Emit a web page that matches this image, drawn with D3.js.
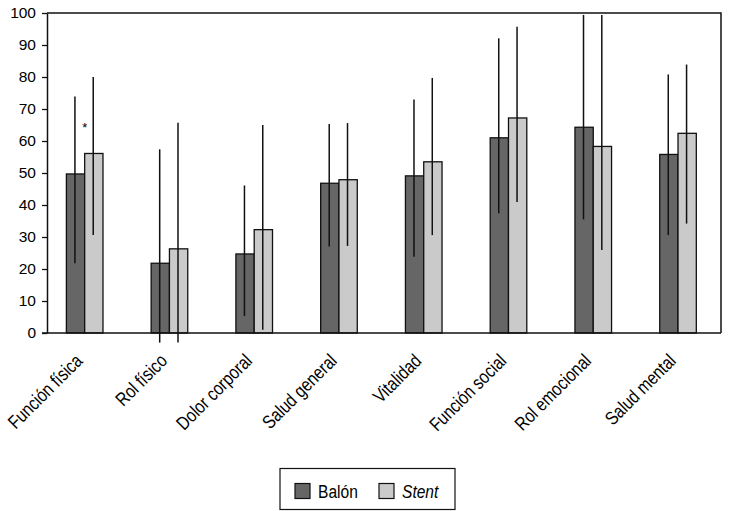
<!DOCTYPE html>
<html>
<head>
<meta charset="utf-8">
<script src="https://cdn.jsdelivr.net/npm/d3@7"></script>
<style>
  body { margin: 0; background: #fff; }
  svg text { font-family: "Liberation Sans", Arial, sans-serif; fill: #000; }
</style>
</head>
<body>
<svg id="plot" width="730" height="511"></svg>
<script>
// data
const categories = ["Función física", "Rol físico", "Dolor corporal", "Salud general",
                    "Vitalidad", "Función social", "Rol emocional", "Salud mental"];
const series = ["Balón", "Stent"];
const balonMean = [49.7, 21.8, 24.7, 46.8, 49.1, 61.0, 64.3, 55.8];
const balonLow  = [21.8, -3.0, 5.3, 27.0, 23.8, 37.4, 35.5, 30.6];
const balonHigh = [73.9, 57.4, 46.1, 65.3, 73.0, 92.1, 99.4, 80.8];
const stentMean = [56.1, 26.3, 32.3, 47.9, 53.5, 67.2, 58.3, 62.4];
const stentLow  = [30.6, -3.0, 1.0, 27.2, 30.6, 40.9, 25.9, 34.2];
const stentHigh = [80.0, 65.7, 65.0, 65.6, 79.7, 95.7, 99.4, 83.9];
const yTicks = [0, 10, 20, 30, 40, 50, 60, 70, 80, 90, 100];
const marks = [{ cat: "Función física", y: 65.2, text: "*" }];

const colors = { "Balón": "#666666", "Stent": "#cacaca" };

const svg = d3.select("#plot");

const plotL = 47, plotR = 721, plotT = 13, plotB = 333;
const narrow = 0.82; // the original type is a condensed face

const x0 = d3.scaleBand().domain(categories).range([42.3, 720.4]);
const x1 = d3.scaleBand().domain(series).range([-18.3, 18.3]);
const y = d3.scaleLinear().domain([0, 100]).range([plotB, plotT]);

const rows = [];
categories.forEach(function(c, i) {
    rows.push({ cat: c, s: "Balón", v: balonMean[i], lo: balonLow[i], hi: balonHigh[i] });
    rows.push({ cat: c, s: "Stent", v: stentMean[i], lo: stentLow[i], hi: stentHigh[i] });
});

function cx(d) { return x0(d.cat) + x0.bandwidth() / 2; }

// bars
svg.append("g").selectAll("rect")
    .data(rows)
    .enter().append("rect")
        .attr("x", function(d) { return cx(d) + x1(d.s); })
        .attr("y", function(d) { return y(d.v); })
        .attr("width", x1.bandwidth())
        .attr("height", function(d) { return y(0) - y(d.v); })
        .attr("fill", function(d) { return colors[d.s]; })
        .attr("stroke", "#111")
        .attr("stroke-width", 1.3);

// error lines
svg.append("g").selectAll("line")
    .data(rows)
    .enter().append("line")
        .attr("x1", function(d) { return cx(d) + x1(d.s) + x1.bandwidth() / 2 - 0.6; })
        .attr("x2", function(d) { return cx(d) + x1(d.s) + x1.bandwidth() / 2 - 0.6; })
        .attr("y1", function(d) { return y(d.lo); })
        .attr("y2", function(d) { return y(d.hi); })
        .attr("stroke", "#111")
        .attr("stroke-width", 1.5);

// frame: top and right
svg.append("path")
    .attr("d", "M" + plotL + "," + plotT + "H" + plotR + "V" + plotB)
    .attr("fill", "none")
    .attr("stroke", "#111")
    .attr("stroke-width", 1.5);

// y axis
const yAxis = svg.append("g")
    .attr("transform", "translate(" + plotL + ",0)")
    .call(d3.axisLeft(y).tickValues(yTicks).tickSize(5).tickPadding(6).tickSizeOuter(0));
yAxis.select(".domain").attr("stroke", "#111").attr("stroke-width", 1.5);
yAxis.selectAll(".tick line").attr("stroke", "#111").attr("stroke-width", 1.3);
yAxis.selectAll(".tick text")
    .attr("font-size", "15.5px")
    .attr("font-family", "Liberation Sans, Arial, sans-serif")
    .attr("fill", "#000");

// x axis line
svg.append("line")
    .attr("x1", plotL - 5).attr("x2", plotR)
    .attr("y1", y(0)).attr("y2", y(0))
    .attr("stroke", "#111")
    .attr("stroke-width", 1.5);

// category labels
svg.append("g").selectAll("text")
    .data(categories)
    .enter().append("text")
        .attr("text-anchor", "end")
        .attr("font-size", "19px")
        .attr("transform", function(d) {
            return "translate(" + (x0(d) + x0.bandwidth() / 2 - 1) + "," + 362 + ") rotate(-45) scale(" + narrow + ",1)";
        })
        .text(function(d) { return d; });

// significance mark
svg.selectAll(".mark")
    .data(marks)
    .enter().append("text")
        .attr("class", "mark")
        .attr("text-anchor", "middle")
        .attr("dominant-baseline", "central")
        .attr("font-size", "13px")
        .attr("x", function(d) { return x0(d.cat) + x0.bandwidth() / 2; })
        .attr("y", function(d) { return y(d.y) + 3; })
        .text(function(d) { return d.text; });

// legend
const leg = svg.append("g");
leg.append("rect")
    .attr("x", 280).attr("y", 468.5)
    .attr("width", 175).attr("height", 41)
    .attr("fill", "#fff")
    .attr("stroke", "#111")
    .attr("stroke-width", 1.2);

const legX = [295, 379];
series.forEach(function(s, i) {
    leg.append("rect")
        .attr("x", legX[i]).attr("y", 483.5)
        .attr("width", 15).attr("height", 15)
        .attr("fill", colors[s])
        .attr("stroke", "#111")
        .attr("stroke-width", 1.2);
    leg.append("text")
        .attr("transform", "translate(" + (legX[i] + 23) + ",498) scale(" + narrow + ",1)")
        .attr("font-size", "19px")
        .attr("font-style", s == "Stent" ? "italic" : "normal")
        .text(s);
});
</script>
</body>
</html>
